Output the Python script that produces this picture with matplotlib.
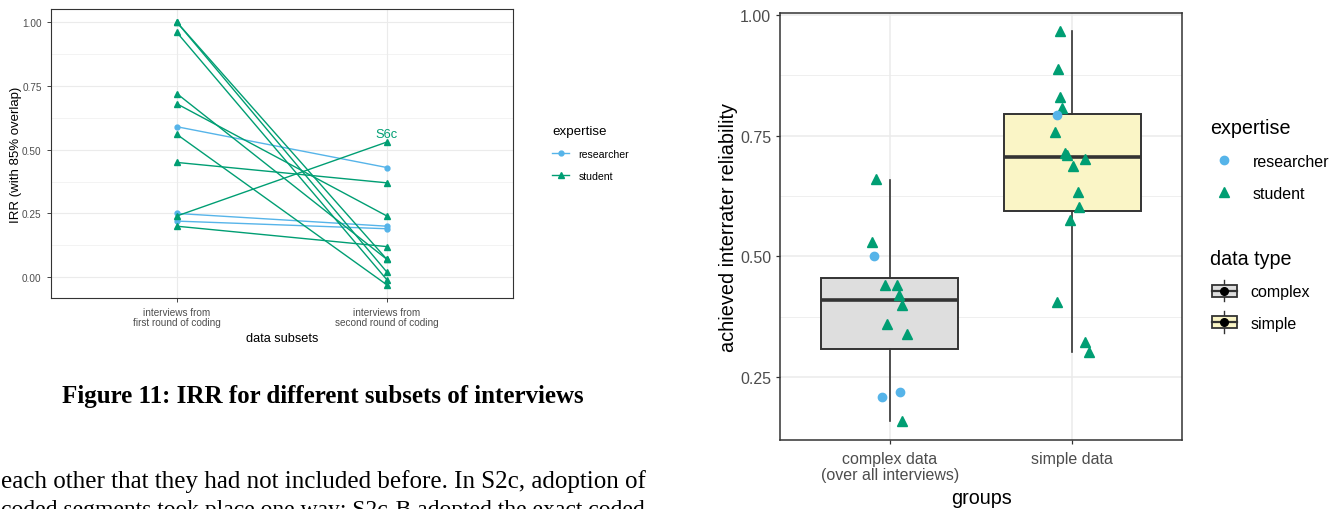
import numpy as np
import matplotlib.pyplot as plt
from matplotlib.lines import Line2D
from matplotlib.patches import Rectangle, Patch
from matplotlib.legend_handler import HandlerBase

plt.rcParams["font.family"] = "Liberation Sans"

BLUE = "#56B4E9"
GREEN = "#009E73"
DARK = "#333333"
TICKC = "#4D4D4D"
GRID = "#EBEBEB"

# --- left panel: IRR per coder pair, first vs second round ---
subset_labels = ["interviews from\nfirst round of coding",
                 "interviews from\nsecond round of coding"]
researcher_first = [0.59, 0.25, 0.22]
researcher_second = [0.43, 0.20, 0.19]
student_first = [1.00, 1.00, 0.96, 0.72, 0.68, 0.56, 0.45, 0.24, 0.20]
student_second = [0.07, 0.02, -0.01, 0.07, 0.24, -0.03, 0.37, 0.53, 0.12]

# --- right panel: achieved reliability per group ---
group_labels = ["complex data\n(over all interviews)", "simple data"]
complex_student = [0.66, 0.53, 0.44, 0.44, 0.42, 0.40, 0.36, 0.34, 0.16]
complex_student_jit = [-0.077, -0.096, -0.024, 0.038, 0.049, 0.064, -0.015, 0.093, 0.069]
complex_researcher = [0.50, 0.21, 0.22]
complex_researcher_jit = [-0.086, -0.041, 0.053]
simple_student = [0.967, 0.888, 0.829, 0.806, 0.758, 0.713, 0.709, 0.702, 0.687,
                  0.634, 0.603, 0.576, 0.405, 0.323, 0.303]
simple_student_jit = [-0.068, -0.077, -0.070, -0.059, -0.097, -0.041, -0.027, 0.069,
                      0.003, 0.031, 0.038, -0.015, -0.085, 0.068, 0.093]
simple_researcher = [0.792]
simple_researcher_jit = [-0.086]

# box stats: whisker low, q1, median, q3, whisker high
complex_box = [0.160, 0.309, 0.410, 0.455, 0.659]
simple_box = [0.303, 0.595, 0.705, 0.794, 0.967]
box_fills = ["#DEDEDE", "#FAF5C6"]

caption = "Figure 11: IRR for different subsets of interviews"
body_lines = ["each other that they had not included before. In S2c, adoption of",
              "coded segments took place one way: S2c-B adopted the exact coded"]


def style_bw(ax, lw):
    ax.set_facecolor("white")
    for sp in ax.spines.values():
        sp.set_color(DARK)
        sp.set_linewidth(lw)
    ax.set_axisbelow(True)
    ax.grid(True, which="major", color=GRID, lw=lw)
    ax.grid(True, which="minor", axis="y", color=GRID, lw=lw * 0.5)
    ax.tick_params(which="major", color=DARK, labelcolor=TICKC, length=3, width=lw * 0.8)
    ax.tick_params(which="minor", length=0)


class BoxKey(HandlerBase):
    def create_artists(self, legend, orig, xd, yd, w, h, fontsize, trans):
        x0, y0 = -xd, -yd
        fill = orig.get_facecolor()
        arts = [
            Line2D([x0 + w / 2] * 2, [y0 - 0.12 * h, y0 + 1.12 * h], color=DARK, lw=1.0),
            Rectangle((x0 + 0.05 * w, y0 + 0.16 * h), 0.9 * w, 0.68 * h,
                      facecolor=fill, edgecolor=DARK, lw=1.3),
            Line2D([x0 + 0.05 * w, x0 + 0.95 * w], [y0 + h / 2] * 2, color=DARK, lw=1.6),
            Line2D([x0 + w / 2], [y0 + h / 2], marker="o", ms=5.5, color="black", ls="none"),
        ]
        for a in arts:
            a.set_transform(trans)
        return arts


fig = plt.figure(figsize=(13.39, 5.10), dpi=100)

# ---------------- left chart ----------------
ax1 = fig.add_axes([0.0379, 0.4137, 0.3452, 0.5667])
for a, b in zip(researcher_first, researcher_second):
    ax1.plot([1, 2], [a, b], color=BLUE, lw=1.0, marker="o", ms=3.5)
for a, b in zip(student_first, student_second):
    ax1.plot([1, 2], [a, b], color=GREEN, lw=1.0, marker="^", ms=4.5)
s6c = int(np.argmax(student_second))
ax1.annotate("S6c", (2, student_second[s6c]), xytext=(0, 1.5), textcoords="offset points",
             ha="center", va="bottom", color=GREEN, fontsize=9.3)
ax1.set_xlim(0.4, 2.6)
ax1.set_ylim(-0.0815, 1.0515)
ax1.set_xticks([1, 2])
ax1.set_xticklabels(subset_labels, fontsize=7.2, linespacing=1.05)
ax1.set_yticks([0, 0.25, 0.5, 0.75, 1.0])
ax1.set_yticklabels(["0.00", "0.25", "0.50", "0.75", "1.00"], fontsize=7.2)
ax1.set_yticks([0.125, 0.375, 0.625, 0.875], minor=True)
style_bw(ax1, 0.8)
ax1.set_xlabel("data subsets", fontsize=9.2, labelpad=3.5)
ax1.set_ylabel("IRR (with 85% overlap)", fontsize=9.5, labelpad=0)

h1 = [Line2D([], [], color=BLUE, lw=1.0, marker="o", ms=3.5),
      Line2D([], [], color=GREEN, lw=1.0, marker="^", ms=4.5)]
fig.legend(h1, ["researcher", "student"], title="expertise", loc="upper left",
           bbox_to_anchor=(0.4085, 0.764), frameon=False, fontsize=7.6,
           title_fontsize=9.6, alignment="left", handlelength=1.6,
           labelspacing=1.15, borderpad=0, handletextpad=0.9)

fig.text(0.2409, 0.2098, caption, ha="center", va="baseline", fontsize=18,
         fontweight="bold", family="Liberation Serif")
fig.text(0.001, 0.0431, body_lines[0], ha="left", va="baseline", fontsize=18,
         family="Liberation Serif")
fig.text(0.001, -0.0118, body_lines[1], ha="left", va="baseline", fontsize=17,
         family="Liberation Serif")

# ---------------- right chart ----------------
ax2 = fig.add_axes([0.5828, 0.1353, 0.2998, 0.8378])
stats = []
for bx in [complex_box, simple_box]:
    stats.append(dict(whislo=bx[0], q1=bx[1], med=bx[2], q3=bx[3], whishi=bx[4],
                      fliers=[]))
bp = ax2.bxp(stats, positions=[1, 2], widths=0.75, patch_artist=True, showcaps=False,
             boxprops=dict(edgecolor=DARK, lw=1.4),
             whiskerprops=dict(color=DARK, lw=1.2),
             medianprops=dict(color=DARK, lw=2.6), zorder=2)
for patch, fc in zip(bp["boxes"], box_fills):
    patch.set_facecolor(fc)

for pos, vals, jit in [(1, complex_student, complex_student_jit),
                       (2, simple_student, simple_student_jit)]:
    ax2.plot(pos + np.array(jit), vals, ls="none", marker="^", ms=7.5, color=GREEN, zorder=3)
for pos, vals, jit in [(1, complex_researcher, complex_researcher_jit),
                       (2, simple_researcher, simple_researcher_jit)]:
    ax2.plot(pos + np.array(jit), vals, ls="none", marker="o", ms=6, color=BLUE, zorder=3)

ax2.set_xlim(0.4, 2.6)
ax2.set_ylim(0.1205, 1.004)
ax2.set_xticks([1, 2])
ax2.set_xticklabels(group_labels, fontsize=11.5, linespacing=1.1)
ax2.set_yticks([0.25, 0.5, 0.75, 1.0])
ax2.set_yticklabels(["0.25", "0.50", "0.75", "1.00"], fontsize=11.5)
ax2.set_yticks([0.375, 0.625, 0.875], minor=True)
style_bw(ax2, 1.1)
ax2.tick_params(axis="x", pad=5)
ax2.set_xlabel("groups", fontsize=14.2, labelpad=4)
ax2.set_ylabel("achieved interrater reliability", fontsize=14.3, labelpad=1.5)

h2 = [Line2D([], [], color=BLUE, ls="none", marker="o", ms=6),
      Line2D([], [], color=GREEN, ls="none", marker="^", ms=7.5)]
fig.legend(h2, ["researcher", "student"], title="expertise", loc="upper left",
           bbox_to_anchor=(0.8978, 0.783), frameon=False, fontsize=11.5,
           title_fontsize=14.2, alignment="left", handlelength=1.75,
           labelspacing=1.07, borderpad=0, handletextpad=0.9)
h3 = [Patch(facecolor=box_fills[0]), Patch(facecolor=box_fills[1])]
fig.legend(h3, ["complex", "simple"], title="data type", loc="upper left",
           bbox_to_anchor=(0.8978, 0.526), frameon=False, fontsize=11.5,
           title_fontsize=14.2, alignment="left", handlelength=1.75, handleheight=1.3,
           labelspacing=0.89, borderpad=0, handletextpad=0.8,
           handler_map={Patch: BoxKey()})

fig.savefig("out.png", dpi=100)
